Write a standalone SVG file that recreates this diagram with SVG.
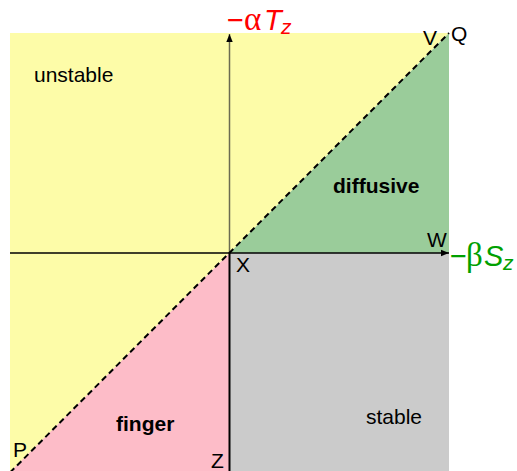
<svg xmlns="http://www.w3.org/2000/svg" width="517" height="471" viewBox="0 0 517 471">
<defs>
<style>
.lbl{font-family:"Liberation Sans",Arial,sans-serif;font-size:21px;fill:#000}
.b{font-weight:bold}
.ax{font-family:"Liberation Sans",Arial,sans-serif;font-size:29px}
.gr{font-family:"Liberation Serif",serif;font-size:33px}
.it{font-style:italic}
.sub{font-style:italic;font-size:21px}
</style>
<marker id="ah" viewBox="0 0 10 10" refX="10" refY="5" markerWidth="8" markerHeight="8" markerUnits="userSpaceOnUse" orient="auto"><path d="M0,1 L10,5 L0,9 Z" fill="#000"/></marker>
</defs>
<g id="regions">
<g id="unstable"><polygon points="10,33 449,33 229.5,253 10,472.5" fill="#fdfca8"/><text class="lbl" x="34" y="82">unstable</text></g>
<g id="diffusive"><polygon points="229.5,253 449,33 449,253" fill="#9acc9a"/><text class="lbl b" x="333" y="193">diffusive</text></g>
<g id="stable"><polygon points="229.5,253 449,253 449,471 229.5,471" fill="#cbcbcb"/><text class="lbl" x="366" y="424">stable</text></g>
<g id="finger"><polygon points="229.5,253 229.5,471 11,471" fill="#fdbcc8"/><text class="lbl b" x="116" y="431">finger</text></g>
</g>
<g id="connectors">
<line x1="229.5" y1="253" x2="229.5" y2="34" stroke="#6b6b50" stroke-width="1.5" marker-end="url(#ah)"/>
<line x1="10" y1="253" x2="449" y2="253" stroke="#000" stroke-width="1.5" marker-end="url(#ah)"/>
<line x1="229.5" y1="253" x2="229.5" y2="471" stroke="#000" stroke-width="2"/>
<line x1="10" y1="472.5" x2="449" y2="33" stroke="#000" stroke-width="2" stroke-dasharray="6,4"/>
</g>
<g id="points">
<text class="lbl" x="423" y="45">V</text>
<text class="lbl" x="451" y="41">Q</text>
<text class="lbl" x="427" y="247">W</text>
<text class="lbl" x="236" y="272">X</text>
<text class="lbl" x="211" y="468">Z</text>
<text class="lbl" x="13" y="457">P</text>
</g>
<g id="axis-labels">
<text class="ax" y="30" fill="#ff0000"><tspan x="227">−</tspan><tspan class="gr" x="244">α</tspan><tspan class="it" x="264">T</tspan><tspan class="sub" x="281" dy="4">z</tspan></text>
<text class="ax" y="266" fill="#00a000"><tspan x="450">−</tspan><tspan class="gr" x="466">β</tspan><tspan class="it" x="484">S</tspan><tspan class="sub" x="503" dy="4">z</tspan></text>
</g>
</svg>
